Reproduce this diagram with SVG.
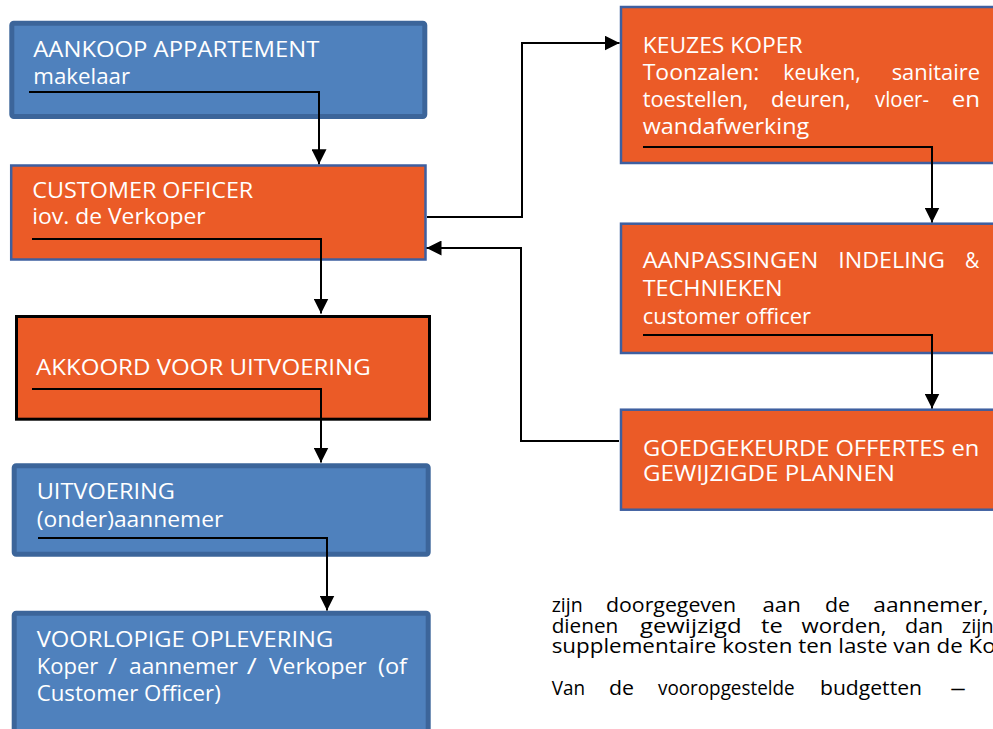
<svg xmlns="http://www.w3.org/2000/svg" width="993" height="729" viewBox="0 0 993 729">
<defs>
<style>
.blue{fill:#4f81bd;stroke:#3c659a;stroke-width:5}
.orange{fill:#eb5b27;stroke:#3e5fa0;stroke-width:2.5}
.orangeb{fill:#eb5b27;stroke:#000;stroke-width:3}
.t{font-family:"Open Sans","Noto Sans",sans-serif;font-size:22px;fill:#fff}
.b{font-family:"Open Sans","Noto Sans",sans-serif;font-size:20px;fill:#000}
.c{fill:none;stroke:#000;stroke-width:2}
</style>
<marker id="arr" markerUnits="userSpaceOnUse" markerWidth="15" markerHeight="15" refX="15" refY="7.5" orient="auto">
<path d="M0,0 L15,7.5 L0,15 z" fill="#000"/>
</marker>
</defs>
<rect width="993" height="729" fill="#fff"/>

<g id="aankoop">
<rect class="blue" x="11.8" y="23.2" width="413" height="93.3" rx="2"/>
<text class="t" x="33.3" y="56.7" textLength="286" lengthAdjust="spacingAndGlyphs">AANKOOP APPARTEMENT</text>
<text class="t" x="33.3" y="84" textLength="96.7" lengthAdjust="spacingAndGlyphs">makelaar</text>
</g>

<g id="customer">
<rect class="orange" x="11.2" y="165.5" width="414.3" height="94"/>
<text class="t" x="32.3" y="197.7" textLength="221" lengthAdjust="spacingAndGlyphs">CUSTOMER OFFICER</text>
<text class="t" x="32.3" y="224.3" textLength="173.4" lengthAdjust="spacingAndGlyphs">iov. de Verkoper</text>
</g>

<g id="akkoord">
<rect class="orangeb" x="16.5" y="316.5" width="413" height="102.7"/>
<text class="t" x="36" y="375.3" textLength="334.7" lengthAdjust="spacingAndGlyphs">AKKOORD VOOR UITVOERING</text>
</g>

<g id="uitvoering">
<rect class="blue" x="14.2" y="465.8" width="414" height="88.4" rx="2"/>
<text class="t" x="36.7" y="499.3" textLength="138.3" lengthAdjust="spacingAndGlyphs">UITVOERING</text>
<text class="t" x="36.7" y="527.3" textLength="186.6" lengthAdjust="spacingAndGlyphs">(onder)aannemer</text>
</g>

<g id="oplevering">
<rect class="blue" x="14.2" y="613.2" width="414" height="130" rx="2"/>
<text class="t" x="36.7" y="646.7" textLength="296.6" lengthAdjust="spacingAndGlyphs">VOORLOPIGE OPLEVERING</text>
<text class="t" y="674"><tspan x="36.7" textLength="61.6" lengthAdjust="spacingAndGlyphs">Koper</tspan><tspan x="108" textLength="9" lengthAdjust="spacingAndGlyphs">/</tspan><tspan x="129" textLength="109" lengthAdjust="spacingAndGlyphs">aannemer</tspan><tspan x="246.7" textLength="10" lengthAdjust="spacingAndGlyphs">/</tspan><tspan x="269" textLength="97.7" lengthAdjust="spacingAndGlyphs">Verkoper</tspan><tspan x="378" textLength="29" lengthAdjust="spacingAndGlyphs">(of</tspan></text>
<text class="t" x="36.7" y="701" textLength="184" lengthAdjust="spacingAndGlyphs">Customer Officer)</text>
</g>

<g id="keuzes">
<rect class="orange" x="621" y="7" width="400" height="156" stroke-width="2"/>
<text class="t" x="642.7" y="52.7" textLength="160" lengthAdjust="spacingAndGlyphs">KEUZES KOPER</text>
<text class="t" y="80"><tspan x="642.7" textLength="116.6" lengthAdjust="spacingAndGlyphs">Toonzalen:</tspan><tspan x="783.3" textLength="77.4" lengthAdjust="spacingAndGlyphs">keuken,</tspan><tspan x="891.7" textLength="88.3" lengthAdjust="spacingAndGlyphs">sanitaire</tspan></text>
<text class="t" y="107.3"><tspan x="642.7" textLength="105.6" lengthAdjust="spacingAndGlyphs">toestellen,</tspan><tspan x="771" textLength="79.7" lengthAdjust="spacingAndGlyphs">deuren,</tspan><tspan x="875" textLength="54" lengthAdjust="spacingAndGlyphs">vloer-</tspan><tspan x="951.7" textLength="28.3" lengthAdjust="spacingAndGlyphs">en</tspan></text>
<text class="t" x="642.7" y="134" textLength="166.6" lengthAdjust="spacingAndGlyphs">wandafwerking</text>
</g>

<g id="aanpassingen">
<rect class="orange" x="621" y="223.7" width="400" height="129.3" stroke-width="2"/>
<text class="t" y="268.3"><tspan x="642.7" textLength="175.6" lengthAdjust="spacingAndGlyphs">AANPASSINGEN</tspan><tspan x="838.3" textLength="106.7" lengthAdjust="spacingAndGlyphs">INDELING</tspan><tspan x="965" textLength="14.3" lengthAdjust="spacingAndGlyphs">&amp;</tspan></text>
<text class="t" x="642.7" y="296" textLength="140" lengthAdjust="spacingAndGlyphs">TECHNIEKEN</text>
<text class="t" x="642.7" y="324" textLength="168.3" lengthAdjust="spacingAndGlyphs">customer officer</text>
</g>

<g id="goedgekeurde">
<rect class="orange" x="621" y="409.7" width="400" height="100" stroke-width="2"/>
<text class="t" x="643" y="456" textLength="336.3" lengthAdjust="spacingAndGlyphs">GOEDGEKEURDE OFFERTES en</text>
<text class="t" x="643" y="480.7" textLength="252" lengthAdjust="spacingAndGlyphs">GEWIJZIGDE PLANNEN</text>
</g>

<g id="connectors">
<path class="c" d="M29,92 H319 V164.3" marker-end="url(#arr)"/>
<path class="c" d="M32,239 H321 V313.5" marker-end="url(#arr)"/>
<path class="c" d="M32,389 H321 V462.5" marker-end="url(#arr)"/>
<path class="c" d="M38,538 H327 V610.5" marker-end="url(#arr)"/>
<path class="c" d="M427,217 H522 V43 H619.5" marker-end="url(#arr)"/>
<path class="c" d="M643,147 H932 V222.5" marker-end="url(#arr)"/>
<path class="c" d="M643,335 H932 V408.5" marker-end="url(#arr)"/>
<path class="c" d="M619,441 H521 V248 H426.5" marker-end="url(#arr)"/>
</g>

<g id="bodytext">
<text class="b" y="612"><tspan x="551.7" textLength="31" lengthAdjust="spacingAndGlyphs">zijn</tspan><tspan x="606" textLength="130" lengthAdjust="spacingAndGlyphs">doorgegeven</tspan><tspan x="762.5" textLength="38.3" lengthAdjust="spacingAndGlyphs">aan</tspan><tspan x="825" textLength="25" lengthAdjust="spacingAndGlyphs">de</tspan><tspan x="873.3" textLength="115" lengthAdjust="spacingAndGlyphs">aannemer,</tspan></text>
<text class="b" y="632.5"><tspan x="551.7" textLength="66.6" lengthAdjust="spacingAndGlyphs">dienen</tspan><tspan x="640" textLength="101.7" lengthAdjust="spacingAndGlyphs">gewijzigd</tspan><tspan x="761" textLength="21.7" lengthAdjust="spacingAndGlyphs">te</tspan><tspan x="801.5" textLength="85" lengthAdjust="spacingAndGlyphs">worden,</tspan><tspan x="905" textLength="38.3" lengthAdjust="spacingAndGlyphs">dan</tspan><tspan x="961.7" textLength="32" lengthAdjust="spacingAndGlyphs">zijn</tspan></text>
<text class="b" x="551.7" y="653" textLength="444" lengthAdjust="spacingAndGlyphs">supplementaire kosten ten laste van de Ko</text>
<text class="b" y="695"><tspan x="551.7" textLength="33.3" lengthAdjust="spacingAndGlyphs">Van</tspan><tspan x="609" textLength="25" lengthAdjust="spacingAndGlyphs">de</tspan><tspan x="658" textLength="136.6" lengthAdjust="spacingAndGlyphs">vooropgestelde</tspan><tspan x="820" textLength="102" lengthAdjust="spacingAndGlyphs">budgetten</tspan><tspan x="950" textLength="16" lengthAdjust="spacingAndGlyphs">–</tspan></text>
</g>
</svg>
